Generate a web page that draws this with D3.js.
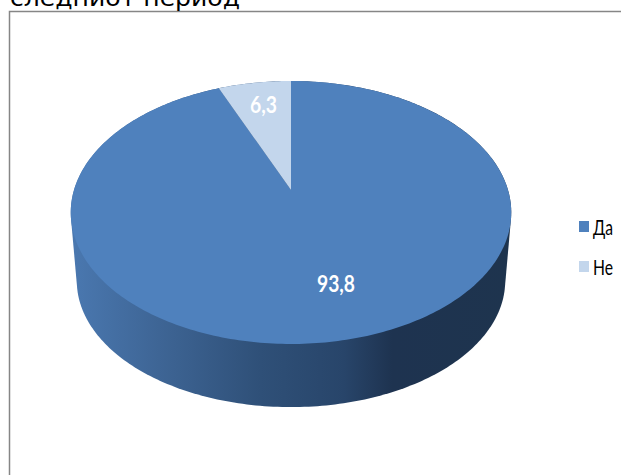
<!DOCTYPE html>
<html><head><meta charset="utf-8">
<script src="https://cdn.jsdelivr.net/npm/d3@7"></script>
<style>html,body{margin:0;padding:0;background:#fff;overflow:hidden}svg{display:block}</style>
</head><body><svg id="c" width="621" height="475"></svg>
<script>
const categories = ["Да", "Не"];
const seriesValues = [93.8, 6.3];
const valueLabels = ["93,8", "6,3"];
const colors = ["#4f81bd", "#c3d6ec"];
const titleText = "следниот период";

const svg = d3.select("#c");
// frame
svg.append("path").attr("d","M9.5,475V11.5H621").attr("fill","none").attr("stroke","#868686").attr("stroke-width",1.5);
svg.append("text").attr("x",10).attr("y",6).attr("font-family","DejaVu Sans").attr("font-size",23)
  .attr("textLength",230).attr("lengthAdjust","spacingAndGlyphs").attr("fill","#000").text(titleText);

// perspective projection of the disc
const cx=291, k=0.171, topCfg={c:190,b:-95.15,R:217}, botCfg={c:259.5,b:-78,R:211};
const proj=(a,cfg,r=1)=>{const u=r*Math.sin(a),v=r*Math.cos(a),w=1+k*v;return [cx+cfg.R*u/w,(cfg.c+cfg.b*v)/w];};
const line=d3.line();
const defs=svg.append("defs");
const grad=defs.append("linearGradient").attr("id","side").attr("gradientUnits","userSpaceOnUse")
  .attr("x1",71).attr("x2",511).attr("y1",0).attr("y2",0);
[[0,"#4a78b0"],[0.2,"#3e6595"],[0.43,"#2f5078"],[0.62,"#28456a"],[0.73,"#1e3350"],[1,"#1e344e"]]
  .forEach(([o,c])=>grad.append("stop").attr("offset",o).attr("stop-color",c));

// side wall: hull of top and bottom rims
const sweep=d3.range(0,360,1).map(d=>d*Math.PI/180);
const hull=d3.polygonHull(sweep.map(a=>proj(a,topCfg)).concat(sweep.map(a=>proj(a,botCfg))));
svg.append("path").attr("d",line(hull)+"Z").attr("fill","url(#side)");

// top face slices
const pie=d3.pie().sort(null)(seriesValues);
svg.selectAll("path.slice").data(pie).join("path").attr("class","slice")
  .attr("fill",(d,i)=>colors[i])
  .attr("d",d=>{
    const n=Math.max(4,Math.ceil((d.endAngle-d.startAngle)*60));
    const pts=d3.range(n+1).map(i=>proj(d.startAngle+(d.endAngle-d.startAngle)*i/n,topCfg));
    return line([proj(0,topCfg,0)].concat(pts))+"Z";
  });

// value labels
const labelPos=[[317,292,38],[250,113,27]];
svg.selectAll("text.val").data(valueLabels).join("text").attr("class","val")
  .attr("x",(d,i)=>labelPos[i][0]).attr("y",(d,i)=>labelPos[i][1])
  .attr("textLength",(d,i)=>labelPos[i][2]).attr("lengthAdjust","spacingAndGlyphs")
  .attr("font-family","Lato").attr("font-weight",700)
  .attr("font-size",23).attr("fill","#fff").text(d=>d);

// legend
const legY=d3.scalePoint().domain(categories).range([227,267]);
svg.selectAll("rect.lg").data(categories).join("rect").attr("class","lg")
  .attr("x",579).attr("y",d=>legY(d)-6).attr("width",10).attr("height",11)
  .attr("fill",(d,i)=>colors[i]);
svg.selectAll("text.lg").data(categories).join("text").attr("class","lg")
  .attr("x",593).attr("y",d=>legY(d)+7.5).attr("font-family","Lato").attr("font-size",21)
  .attr("textLength",20).attr("lengthAdjust","spacingAndGlyphs")
  .attr("fill","#000").text(d=>d);
</script></body></html>
